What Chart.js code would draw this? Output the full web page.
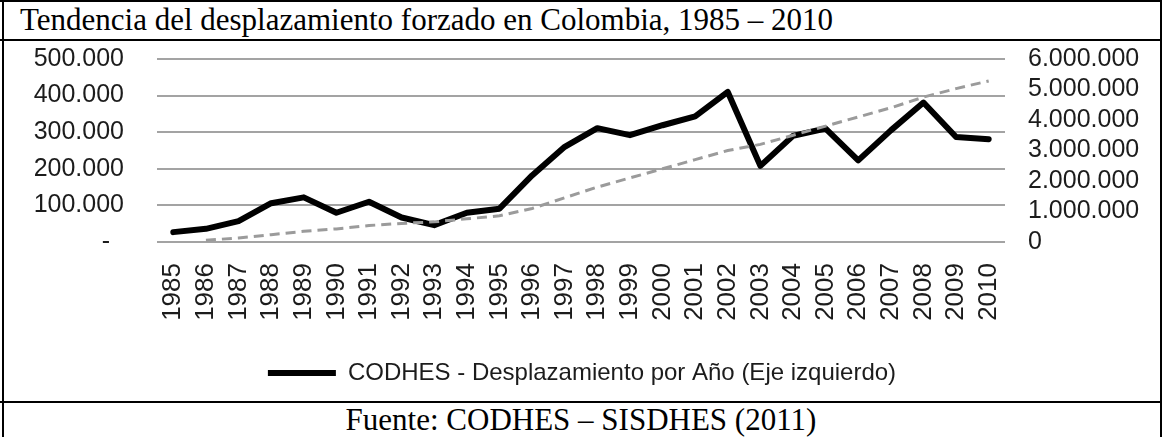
<!DOCTYPE html>
<html>
<head>
<meta charset="utf-8">
<script src="https://cdn.jsdelivr.net/npm/chart.js@4.4.0/dist/chart.umd.min.js"></script>
<style>
  html, body { margin: 0; padding: 0; background: #fff; }
  #frame { position: relative; width: 1162px; height: 437px; overflow: hidden; background: #fff; }
  .rule { position: absolute; background: #000; }
  #title { position: absolute; left: 20px; top: 1px; font-family: "Liberation Serif", "Times New Roman", serif; font-size: 31px; line-height: 38px; white-space: nowrap; color: #000; }
  #source { position: absolute; left: 0; width: 1162px; top: 402px; text-align: center; font-family: "Liberation Serif", "Times New Roman", serif; font-size: 31px; line-height: 35px; color: #000; }
  #box { position: absolute; left: 4px; top: 41px; width: 1156px; height: 360px; }
</style>
</head>
<body>
<div id="frame">
  <div class="rule" style="left:0;top:0;width:1162px;height:2px"></div>
  <div class="rule" style="left:2px;top:0;width:2px;height:437px"></div>
  <div class="rule" style="left:1160px;top:0;width:2px;height:437px"></div>
  <div class="rule" style="left:0;top:39px;width:1162px;height:2px"></div>
  <div class="rule" style="left:0;top:401px;width:1162px;height:2px"></div>
  <div id="title">Tendencia del desplazamiento forzado en Colombia, 1985 – 2010</div>
  <div id="box"><canvas id="chart"></canvas></div>
  <div id="source">Fuente: CODHES – SISDHES (2011)</div>
</div>
<script>
// años
const years = ['1985', '1986', '1987', '1988', '1989', '1990', '1991', '1992', '1993',
  '1994', '1995', '1996', '1997', '1998', '1999', '2000', '2001', '2002', '2003',
  '2004', '2005', '2006', '2007', '2008', '2009', '2010'];

// personas desplazadas por año (eje izquierdo)
const desplazamientoAnual = [27000, 36000, 57000, 106000, 122000, 80000, 110000, 67000, 46000,
  80000, 91000, 182000, 260000, 311000, 292000, 319000, 343000, 410000, 208000,
  290000, 310000, 223000, 305000, 381000, 287000, 281000];

// acumulado (eje derecho), la curva arranca en 1986
const desplazamientoAcumulado = [null, 60000, 130000, 240000, 350000, 430000, 540000, 610000, 660000,
  760000, 860000, 1100000, 1450000, 1800000, 2100000, 2400000, 2700000, 3000000, 3200000,
  3500000, 3800000, 4100000, 4400000, 4750000, 5030000, 5280000];

const leftTicks = { min: 0, max: 500000, step: 100000 };
const rightTicks = { min: 0, max: 6000000, step: 1000000 };

const puntos = v => String(v).replace(/\B(?=(\d{3})+(?!\d))/g, '.');

Chart.defaults.font.family = '"Liberation Sans", Arial, sans-serif';
Chart.defaults.color = '#1c1c1c';

new Chart('chart', {
  type: 'line',
  data: {
    labels: years,
    datasets: [{
      label: 'CODHES - Desplazamiento por Año (Eje izquierdo)',
      data: desplazamientoAnual,
      borderColor: '#000',
      backgroundColor: '#000',
      borderWidth: 6,
      borderJoinStyle: 'round',
      borderCapStyle: 'round',
      pointRadius: 0,
      tension: 0,
      yAxisID: 'y',
      order: 1
    }, {
      label: 'Acumulado (Eje derecho)',
      data: desplazamientoAcumulado,
      borderColor: '#9b9b9b',
      borderWidth: 3,
      borderDash: [10, 6],
      pointRadius: 0,
      tension: 0,
      yAxisID: 'y1',
      order: 0
    }]
  },
  options: {
    responsive: true,
    maintainAspectRatio: false,
    animation: false,
    devicePixelRatio: 1,
    layout: { padding: { top: 18, bottom: 6, left: 0, right: 0 } },
    plugins: {
      tooltip: { enabled: false },
      legend: {
        position: 'bottom',
        labels: {
          usePointStyle: true,
          pointStyle: 'line',
          pointStyleWidth: 68,
          padding: 10,
          font: { size: 24 },
          color: '#1c1c1c',
          filter: item => item.datasetIndex === 0
        }
      }
    },
    scales: {
      x: {
        offset: true,
        grid: { display: false, drawTicks: false },
        border: { display: false },
        ticks: { autoSkip: false, minRotation: 90, maxRotation: 90, padding: 21, font: { size: 26 } },
        afterFit: s => { s.height = 109; }
      },
      y: {
        position: 'left',
        min: leftTicks.min,
        max: leftTicks.max,
        // the gap to the labels goes through an invisible tick mark, not ticks.padding
        grid: { color: '#a3a3a3', lineWidth: 2, drawTicks: true, tickLength: 33, tickColor: 'rgba(0,0,0,0)' },
        border: { display: false },
        ticks: {
          autoSkip: false,
          stepSize: leftTicks.step,
          padding: 0,
          font: { size: 25 },
          callback: v => v === 0 ? '-  ' : puntos(v)
        },
        afterFit: s => { s.width = 153; }
      },
      y1: {
        position: 'right',
        min: rightTicks.min,
        max: rightTicks.max,
        grid: { drawOnChartArea: false, color: 'rgba(0,0,0,0)', drawTicks: true, tickLength: 23, tickColor: 'rgba(0,0,0,0)' },
        border: { display: false },
        ticks: {
          autoSkip: false,
          stepSize: rightTicks.step,
          padding: 0,
          font: { size: 25 },
          callback: v => puntos(v)
        },
        afterFit: s => { s.width = 155; }
      }
    }
  }
});
</script>
</body>
</html>
